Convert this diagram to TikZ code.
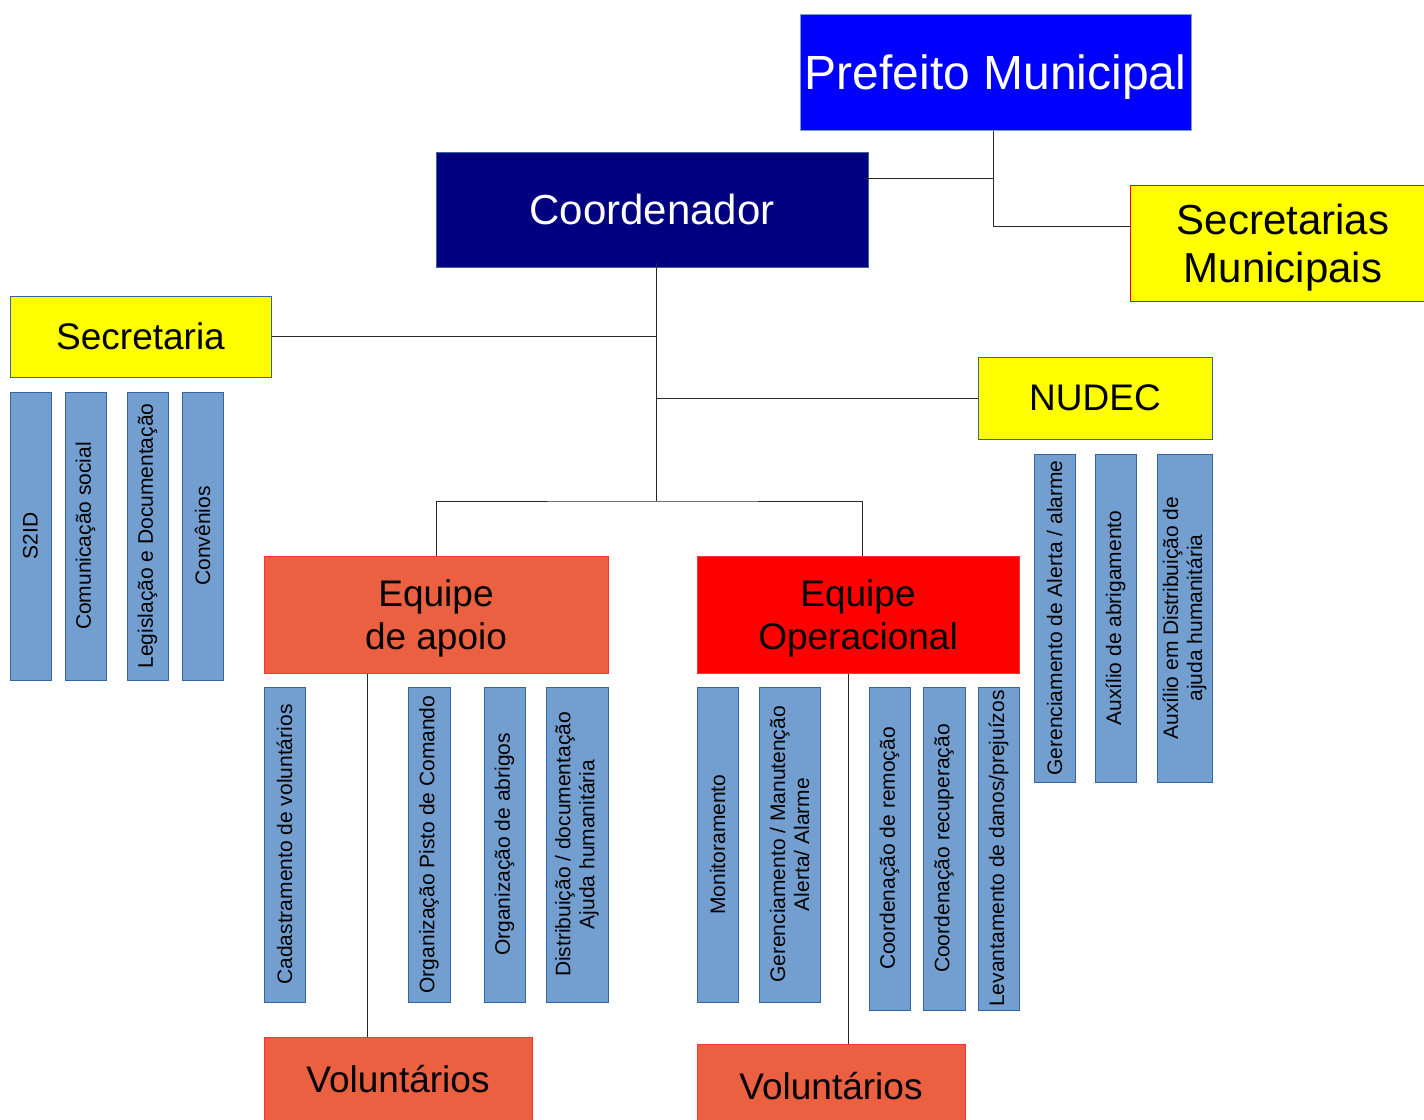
\documentclass[tikz,border=0pt]{standalone}
\usepackage{fontspec}
\setmainfont{Liberation Sans}
\usepackage{tikz}
\usetikzlibrary{positioning,calc}
\usepackage{xcolor}
\definecolor{prefblue}{RGB}{0,0,255}
\definecolor{coordnavy}{RGB}{0,0,128}
\definecolor{secyellow}{RGB}{255,255,0}
\definecolor{apoiocoral}{RGB}{234,96,64}
\definecolor{operred}{RGB}{255,0,0}
\definecolor{subblue}{RGB}{114,159,207}
\definecolor{subedge}{RGB}{52,101,164}
\definecolor{lineclr}{RGB}{40,40,40}
\tikzstyle{box} = [rectangle, draw, line width=1pt, inner sep=0pt, align=center]
\tikzstyle{subbox} = [box, rotate=90, fill=subblue, draw=subedge, font=\fontsize{21}{24}\selectfont]
\tikzstyle{conn} = [line width=1pt, color=lineclr]

\begin{document}
\begin{tikzpicture}[x=1pt, y=-1pt]
    \useasboundingbox (0,0) rectangle (1424,1119);

    % Top level
    \node[box, fill=prefblue, draw=subblue, text=white, minimum width=391, minimum height=116,
          text depth=0pt, font=\fontsize{48}{54}\selectfont] (pref) at (995.5,72) {Prefeito Municipal};
    \node[box, fill=coordnavy, draw=subedge, text=white, minimum width=432, minimum height=115,
          font=\fontsize{42}{48}\selectfont] (coord) at (652,209.5) {Coordenador};
    \node[box, fill=secyellow, draw=operred, minimum width=306, minimum height=116,
          text depth=0pt, font=\fontsize{42}{48}\selectfont] (secm) at (1283,243) {Secretarias\\ Municipais};

    % Secretaria and NUDEC
    \node[box, fill=secyellow, draw=subedge, minimum width=261, minimum height=81,
          font=\fontsize{37}{43}\selectfont] (sec) at (140.5,336.5) {Secretaria};
    \node[box, fill=secyellow, draw=subedge, minimum width=234, minimum height=82,
          font=\fontsize{37}{43}\selectfont] (nudec) at (1095,398) {NUDEC};

    % Equipes
    \node[box, fill=apoiocoral, draw=operred!80, minimum width=344, minimum height=117,
          text depth=0pt, font=\fontsize{37}{43}\selectfont] (apoio) at (436,614.5) {Equipe\\ de apoio};
    \node[box, fill=operred, draw=operred!80, minimum width=322, minimum height=117,
          text depth=0pt, font=\fontsize{37}{43}\selectfont] (oper) at (858,614.5) {Equipe\\ Operacional};

    % Voluntarios
    \node[box, fill=apoiocoral, draw=operred!80, minimum width=268, minimum height=84,
          font=\fontsize{37}{43}\selectfont] (vol1) at (398,1079) {Voluntários};
    \node[box, fill=apoiocoral, draw=operred!80, minimum width=268, minimum height=84,
          font=\fontsize{37}{43}\selectfont] (vol2) at (831,1086) {Voluntários};

    % Secretaria items
    \node[subbox, minimum width=288, minimum height=41] (secA) at (30.5,536) {S2ID};
    \node[subbox, minimum width=288, minimum height=41] (secB) at (85.5,536) {Comunicação social};
    \node[subbox, minimum width=288, minimum height=41] (secC) at (147.5,536) {Legislação e Documentação};
    \node[subbox, minimum width=288, minimum height=41] (secD) at (202.5,536) {Convênios};

    % Equipe de apoio items
    \node[subbox, minimum width=315, minimum height=41] (apA) at (284.5,844.5) {Cadastramento de voluntários};
    \node[subbox, minimum width=315, minimum height=42] (apB) at (429,844.5) {Organização Pisto de Comando};
    \node[subbox, minimum width=315, minimum height=41] (apC) at (504.5,844.5) {Organização de abrigos};
    \node[subbox, minimum width=315, minimum height=62] (apD) at (577,844.5) {Distribuição / documentação\\ Ajuda humanitária};

    % Equipe Operacional items
    \node[subbox, minimum width=315, minimum height=41] (opA) at (717.5,844.5) {Monitoramento};
    \node[subbox, minimum width=315, minimum height=61] (opB) at (789.5,844.5) {Gerenciamento / Manutenção\\ Alerta/ Alarme};
    \node[subbox, minimum width=323, minimum height=41] (opC) at (889.5,848.5) {Coordenação de remoção};
    \node[subbox, minimum width=323, minimum height=42] (opD) at (944,848.5) {Coordenação recuperação};
    \node[subbox, minimum width=323, minimum height=41] (opE) at (998.5,848.5) {Levantamento de danos/prejuízos};

    % NUDEC items
    \node[subbox, minimum width=328, minimum height=41] (nuA) at (1054.5,618) {Gerenciamento de Alerta / alarme};
    \node[subbox, minimum width=328, minimum height=41] (nuB) at (1115.5,618) {Auxílio de abrigamento};
    \node[subbox, minimum width=328, minimum height=55] (nuC) at (1184.5,618) {Auxílio em Distribuição de\\ ajuda humanitária};

    % Connectors
    \coordinate (hub) at (656,501);
    \coordinate (pjoin) at (993,178);
    \draw[conn] (pref.south -| pjoin) |- (secm.west |- 0,226);
    \draw[conn] (coord.east |- pjoin) ++(-4,0) -- (pjoin);
    \draw[conn] (hub |- coord.south) ++(0,-5) -- (hub);
    \draw[conn] (sec.east) -- (sec.east -| hub);
    \draw[conn] (nudec.west) -- (nudec.west -| hub);
    \draw[conn] (apoio.north) |- (hub) -| (oper.north -| 862,0);
    \draw[conn] (apoio.south -| 367,0) -- (vol1.north -| 367,0);
    \draw[conn] (oper.south -| 848,0) -- (vol2.north -| 848,0);
\end{tikzpicture}
\end{document}
